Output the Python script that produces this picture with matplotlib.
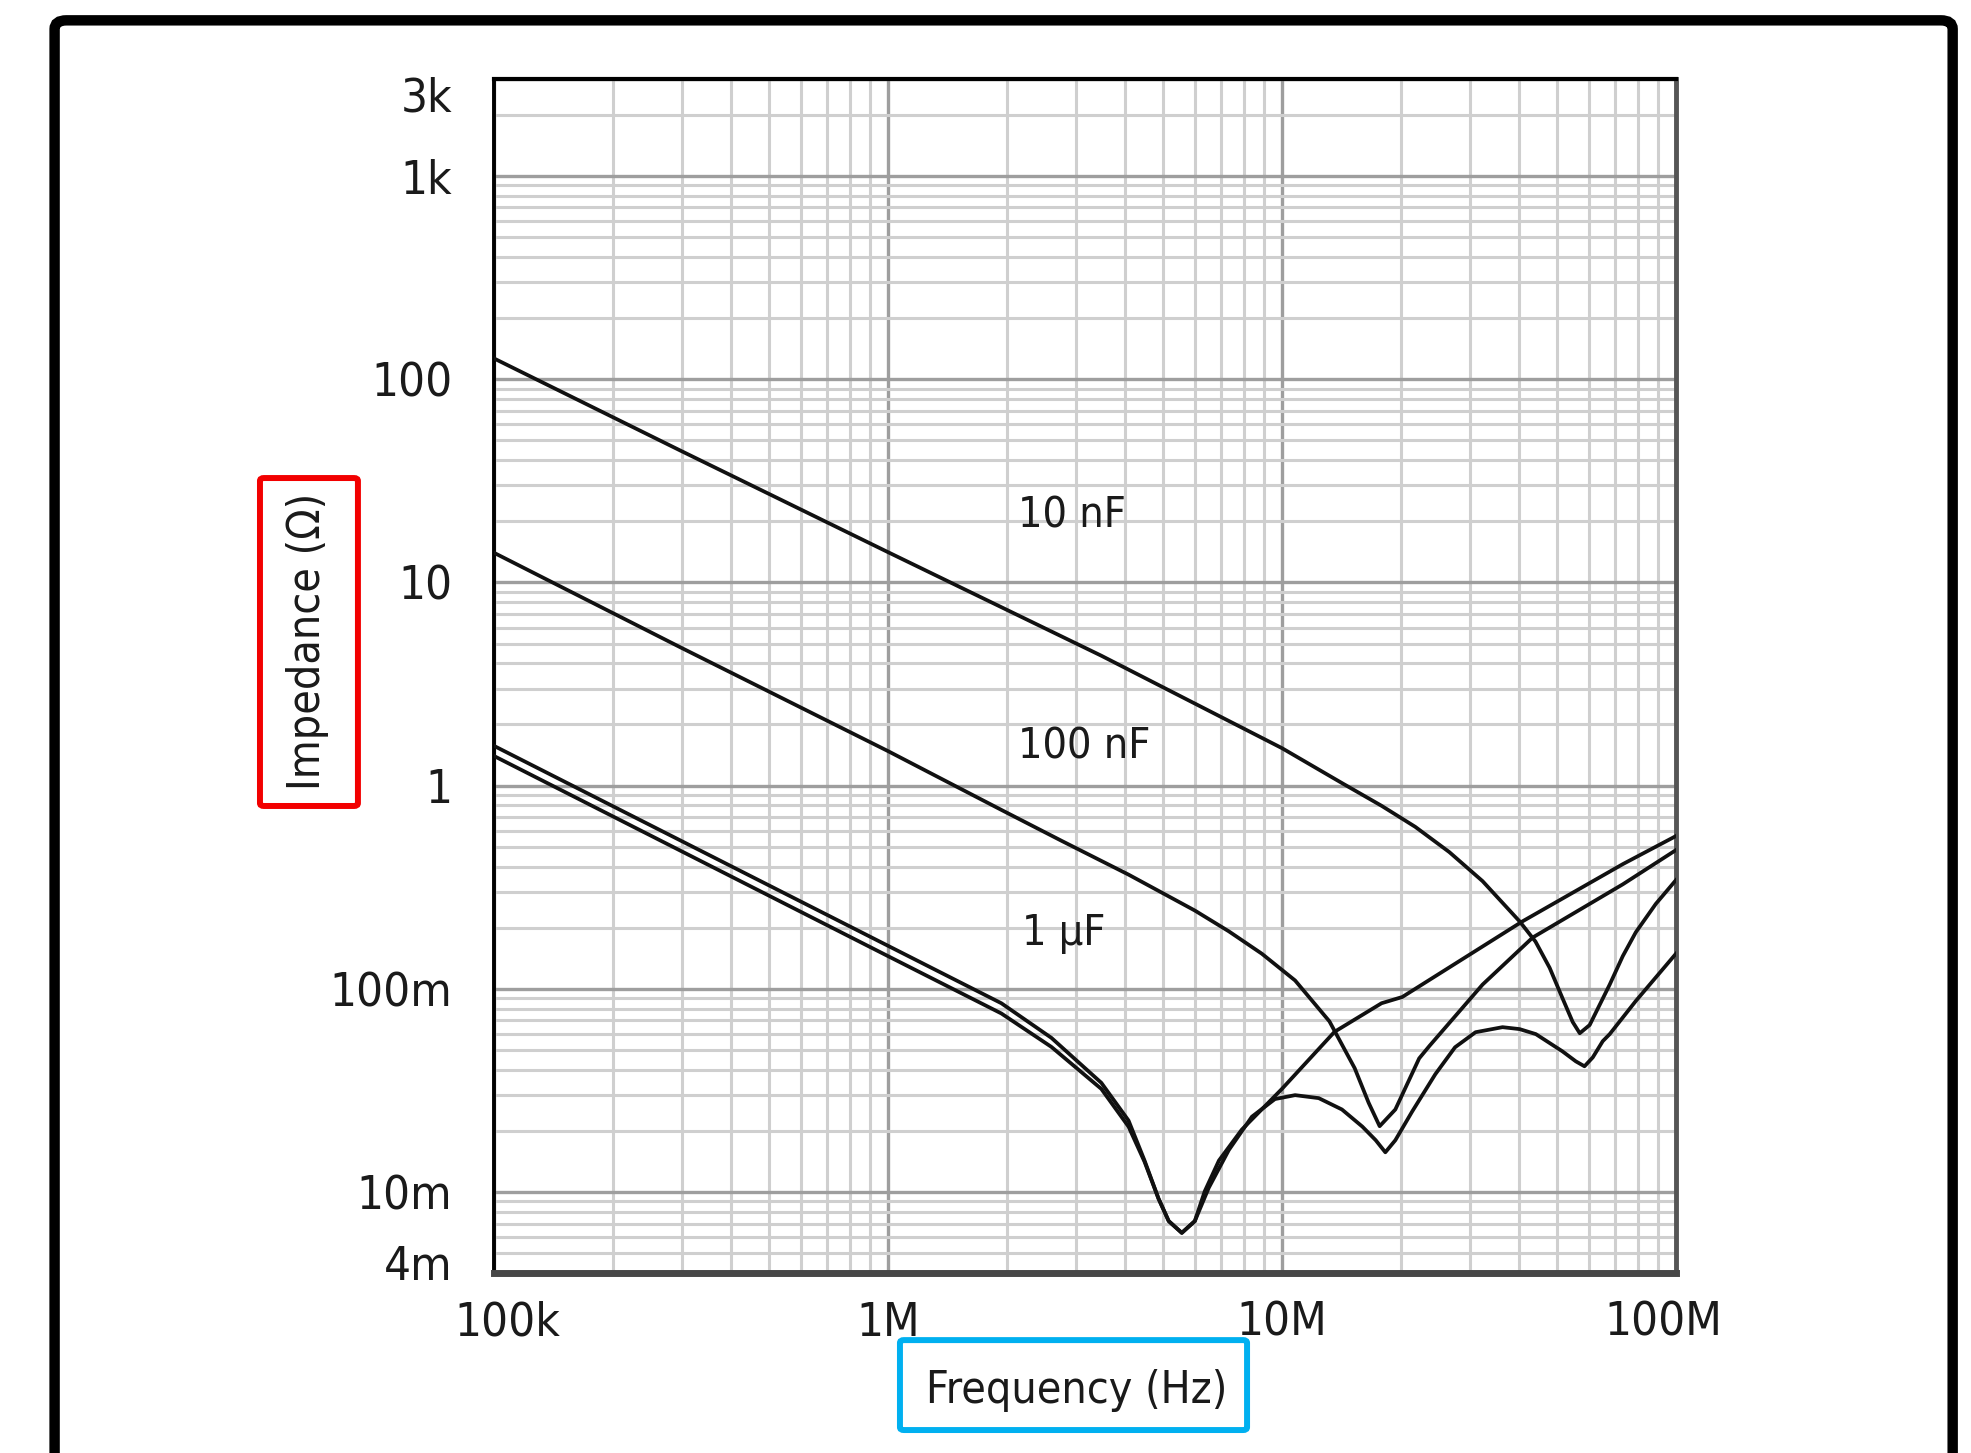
import numpy as np
import matplotlib.pyplot as plt
import matplotlib.font_manager as fm
from matplotlib.patches import FancyBboxPatch
from matplotlib.ticker import LogLocator, NullFormatter
from matplotlib.transforms import ScaledTranslation

# impedance curves (Hz, ohm)
f_10n = [1e5, 2.97e5, 1e6, 3.48e6, 1e7, 1.42e7, 1.79e7, 2.18e7, 2.66e7, 3.23e7, 4.01e7,
         4.40e7, 4.78e7, 5.15e7, 5.47e7, 5.70e7, 6.04e7, 6.79e7, 7.33e7, 7.91e7, 8.89e7, 1e8]
z_10n = [126.6, 44.6, 14.1, 4.36, 1.53, 1.03, 0.796, 0.627, 0.471, 0.339, 0.215,
         0.171, 0.127, 0.0902, 0.0687, 0.0605, 0.0664, 0.105, 0.145, 0.19, 0.262, 0.343]

f_100n = [1e5, 2.97e5, 1e6, 1.94e6, 2.76e6, 4.08e6, 6.01e6, 7.33e6, 8.89e6, 1.08e7, 1.32e7,
          1.53e7, 1.66e7, 1.77e7, 1.94e7, 2.23e7, 2.37e7, 3.23e7, 4.33e7, 7.33e7, 1e8]
z_100n = [14.0, 4.8, 1.48, 0.76, 0.535, 0.365, 0.243, 0.192, 0.149, 0.110, 0.0692,
          0.0407, 0.0275, 0.0211, 0.0255, 0.0455, 0.0525, 0.105, 0.179, 0.327, 0.482]

f_1u = [1e5, 1e6, 1.94e6, 2.6e6, 3.48e6, 4.08e6, 4.48e6, 4.86e6, 5.16e6, 5.57e6, 6.01e6,
        6.37e6, 6.92e6, 7.91e6, 1e7, 1.36e7, 1.79e7, 2.02e7, 4.08e7, 7.33e7, 1e8]
z_1u = [1.57, 0.163, 0.085, 0.0574, 0.0345, 0.0225, 0.0143, 0.0093, 0.0072, 0.0063, 0.0072,
        0.0101, 0.0143, 0.0203, 0.0322, 0.0615, 0.085, 0.0912, 0.215, 0.411, 0.565]

# 1 uF || 100 nF || 10 nF
f_par = [1e5, 1e6, 1.94e6, 2.6e6, 3.48e6, 4.08e6, 4.48e6, 4.86e6, 5.16e6, 5.57e6, 6.01e6,
         6.52e6, 7.33e6, 8.39e6, 9.6e6, 1.08e7, 1.24e7, 1.42e7, 1.6e7, 1.73e7, 1.83e7,
         1.94e7, 2.14e7, 2.45e7, 2.75e7, 3.1e7, 3.63e7, 4.01e7, 4.41e7, 5.15e7, 5.57e7,
         5.86e7, 6.15e7, 6.52e7, 6.79e7, 7.91e7, 1e8]
z_par = [1.40, 0.145, 0.0757, 0.0518, 0.0322, 0.0210, 0.0141, 0.0093, 0.0072, 0.0063, 0.0072,
         0.0105, 0.0161, 0.0235, 0.0287, 0.0300, 0.0290, 0.0255, 0.0210, 0.0180, 0.0157,
         0.0180, 0.0249, 0.0380, 0.0516, 0.0612, 0.0648, 0.0634, 0.0599, 0.0493, 0.0440,
         0.0416, 0.0460, 0.0553, 0.0599, 0.0872, 0.149]

labels = ['10 nF', '100 nF', '1 µF']
label_f = [2.14e6, 2.14e6, 2.19e6]
label_z = [21.4, 1.55, 0.188]

xticks = [1e5, 1e6, 1e7, 1e8]
xtick_labels = ['100k', '1M', '10M', '100M']
yticks = [4e-3, 1e-2, 1e-1, 1, 10, 100, 1e3, 3e3]
ytick_labels = ['4m', '10m', '100m', '1', '10', '100', '1k', '3k']

# pick a narrow face if one is installed
fonts = fm.fontManager.ttflist
pick = None
for name, narrow in [('Liberation Sans Narrow', False), ('Noto Sans', True),
                     ('DejaVu Sans', True), ('Open Sans', True)]:
    for e in fonts:
        if e.name == name and (not narrow or 'condensed' in str(e.stretch)):
            pick = (name, e.stretch)
            break
    if pick:
        break
if pick is None:
    pick = ('Lato', 'normal')
plt.rcParams['font.family'] = [pick[0], 'DejaVu Sans']
plt.rcParams['font.stretch'] = pick[1]

fig = plt.figure(figsize=(19.71, 14.53), dpi=100)
ax = fig.add_axes([0.2506, 0.1239, 0.5997, 0.8217])
ax.set_xscale('log')
ax.set_yscale('log')
ax.set_xlim(1e5, 1e8)
ax.set_ylim(4e-3, 3e3)

for f, z in [(f_10n, z_10n), (f_100n, z_100n), (f_1u, z_1u), (f_par, z_par)]:
    ax.plot(f, z, color='#111111', lw=2.7, solid_joinstyle='round', zorder=3)

for t, x, y in zip(labels, label_f, label_z):
    ax.text(x, y, t, fontsize=31, color='#1a1a1a', ha='left', va='center', zorder=4)

ax.set_xticks(xticks, xtick_labels)
ax.set_yticks(yticks, ytick_labels)
ax.xaxis.set_minor_locator(LogLocator(base=10, subs=np.arange(2, 10)))
ax.yaxis.set_minor_locator(LogLocator(base=10, subs=np.arange(2, 10)))
ax.xaxis.set_minor_formatter(NullFormatter())
ax.yaxis.set_minor_formatter(NullFormatter())
ax.tick_params(which='both', length=0)
ax.tick_params(axis='x', pad=20, labelsize=34, labelcolor='#1a1a1a')
ax.tick_params(axis='y', pad=30, labelsize=34, labelcolor='#1a1a1a')

# end labels sit a little inside the frame
yl = ax.get_yticklabels()
yl[0].set_transform(yl[0].get_transform() + ScaledTranslation(0, 0.10, fig.dpi_scale_trans))
yl[-1].set_transform(yl[-1].get_transform() + ScaledTranslation(0, -0.15, fig.dpi_scale_trans))
xl = ax.get_xticklabels()
xl[0].set_transform(xl[0].get_transform() + ScaledTranslation(0.13, 0, fig.dpi_scale_trans))
xl[-1].set_transform(xl[-1].get_transform() + ScaledTranslation(-0.13, 0, fig.dpi_scale_trans))

ax.set_axisbelow(True)
ax.grid(which='minor', color='#cfcfcf', lw=2.2)
ax.grid(which='major', color='#9e9e9e', lw=2.4)

ax.spines['left'].set_color('black')
ax.spines['left'].set_linewidth(2.8)
ax.spines['top'].set_color('black')
ax.spines['top'].set_linewidth(3.0)
ax.spines['bottom'].set_color('#474747')
ax.spines['bottom'].set_linewidth(5)
ax.spines['right'].set_color('#555555')
ax.spines['right'].set_linewidth(3.5)

ax.set_ylabel('Impedance (Ω)', fontsize=32, color='#1a1a1a', ha='center', va='center')
ax.yaxis.set_label_coords(-0.1574, 0.5293)
ax.set_xlabel('Frequency (Hz)', fontsize=32, color='#1a1a1a', ha='center', va='center')
ax.xaxis.set_label_coords(0.4932, -0.0988)

# outer frame and highlight boxes
fig.patches.append(FancyBboxPatch((0.0277, -0.1), 0.963, 1.086,
                                  boxstyle='round,pad=0,rounding_size=0.006',
                                  transform=fig.transFigure, fill=False,
                                  lw=7.5, ec='black'))
fig.patches.append(FancyBboxPatch((0.1319, 0.4453), 0.0497, 0.2257,
                                  boxstyle='round,pad=0,rounding_size=0.002',
                                  transform=fig.transFigure, fill=False,
                                  lw=4.3, ec='#f20000'))
fig.patches.append(FancyBboxPatch((0.4566, 0.0158), 0.1761, 0.0619,
                                  boxstyle='round,pad=0,rounding_size=0.002',
                                  transform=fig.transFigure, fill=False,
                                  lw=4.3, ec='#00b0f0'))

fig.savefig('out.png', dpi=100)
